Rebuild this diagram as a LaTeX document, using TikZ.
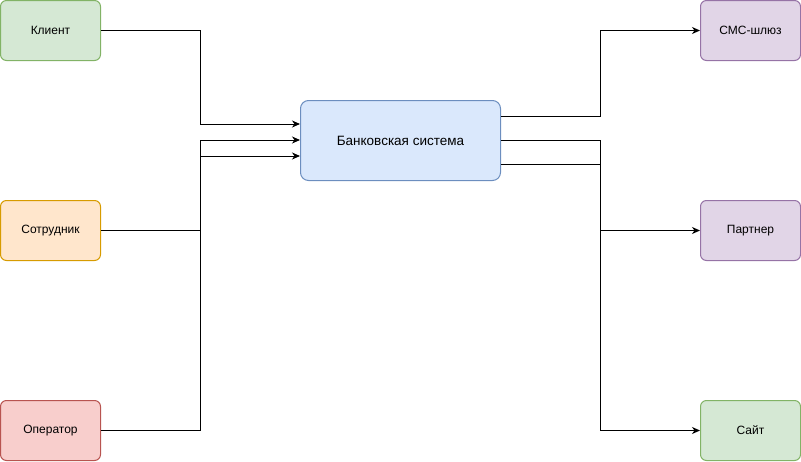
\documentclass[tikz,border=0pt]{standalone}
\usepackage{fontspec}
\setmainfont{Liberation Sans}
\usetikzlibrary{calc,
arrows.meta,
positioning}

\definecolor{greenfill}{HTML}{D5E8D4}
\definecolor{greenline}{HTML}{82B366}
\definecolor{orangefill}{HTML}{FFE6CC}
\definecolor{orangeline}{HTML}{D79B00}
\definecolor{redfill}{HTML}{F8CECC}
\definecolor{redline}{HTML}{B85450}
\definecolor{bluefill}{HTML}{DAE8FC}
\definecolor{blueline}{HTML}{6C8EBF}
\definecolor{violetfill}{HTML}{E1D5E7}
\definecolor{violetline}{HTML}{9673A6}

\begin{document}
\begin{tikzpicture} [x=1pt,
    y=-1pt,
    -{Stealth[length=8pt,width=7pt,inset=2.5pt]},
    line width=1pt,
    every node/.style={font={\fontsize{12}{14}\selectfont}},
    main node/.style={rectangle, draw, rounded corners=6pt,
        minimum width=100pt, minimum height=60pt, align=center}
  ]

  \useasboundingbox (0,0) rectangle (801,461);

  \node [main node,
    fill = greenfill,
    draw = greenline
  ] (client) at (50.5, 30.5)   {Клиент};
  \node [main node,
    fill = orangefill,
    draw = orangeline
  ] (staff) at (50.5, 230.5)   {Сотрудник};
  \node [main node,
    fill = redfill,
    draw = redline
  ] (operator) at (50.5, 430.5) {Оператор};

  \node [main node,
    fill = bluefill,
    draw = blueline,
    rounded corners = 8pt,
    minimum width = 200pt,
    minimum height = 80pt,
    font = {\fontsize{13.5}{16}\selectfont}
  ] (bank) at (400.5, 140.5) {Банковская система};

  \node [main node,
    fill = violetfill,
    draw = violetline
  ] (sms) at (750.5, 30.5)     {СМС-шлюз};
  \node [main node,
    fill = violetfill,
    draw = violetline
  ] (partner) at (750.5, 230.5) {Партнер};
  \node [main node,
    fill = greenfill,
    draw = greenline
  ] (site) at (750.5, 430.5)   {Сайт};

  \coordinate (in1) at ($(bank.north west) + (0, 24)$);
  \coordinate (in2) at ($(bank.north west) + (0, 40)$);
  \coordinate (in3) at ($(bank.north west) + (0, 56)$);
  \coordinate (out1) at ($(bank.north east) + (0, 16)$);
  \coordinate (out2) at ($(bank.north east) + (0, 40)$);
  \coordinate (out3) at ($(bank.north east) + (0, 64)$);

  \draw (client.east)   -| ($(client.east)!.5!(in1)$)   |- (in1);
  \draw (staff.east)    -| ($(staff.east)!.5!(in2)$)    |- (in2);
  \draw (operator.east) -| ($(operator.east)!.5!(in3)$) |- (in3);

  \draw (out1) -| ($(out1)!.5!(sms.west)$)     |- (sms.west);
  \draw (out2) -| ($(out2)!.5!(partner.west)$) |- (partner.west);
  \draw (out3) -| ($(out3)!.5!(site.west)$)    |- (site.west);

\end{tikzpicture}
\end{document}
